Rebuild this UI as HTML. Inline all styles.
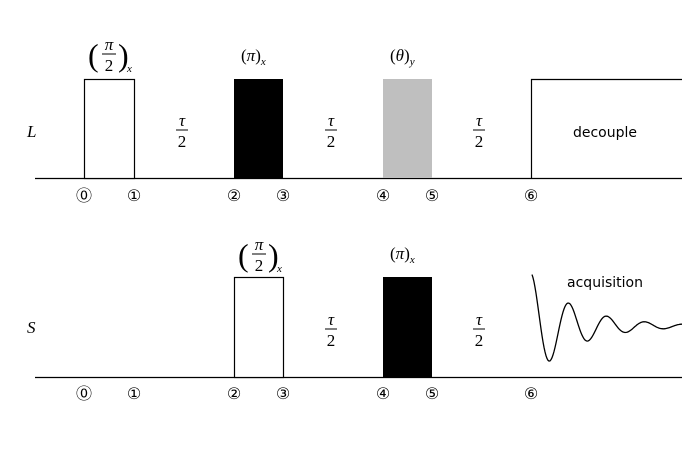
<!DOCTYPE html>
<html><head><meta charset="utf-8"><style>
html,body{margin:0;padding:0;background:#fff}
svg text{font-family:"Liberation Serif","DejaVu Serif",serif}
.s{font-family:"DejaVu Sans","Liberation Sans",sans-serif}
</style></head><body>
<svg width="698" height="458" viewBox="0 0 698 458" xmlns="http://www.w3.org/2000/svg">
<defs>
<g id="tau" font-size="17" text-anchor="middle">
<text x="0" y="-4" font-style="italic">τ</text><line x1="-6" y1="0" x2="6" y2="0" stroke="#000" stroke-width="1"/><text x="0" y="17">2</text>
</g>
</defs>
<g stroke="#000" stroke-width="1.2" fill="none">
<line x1="35" y1="178.5" x2="682" y2="178.5"/>
<line x1="35" y1="377.5" x2="682" y2="377.5"/>
<rect x="84.5" y="79.5" width="50" height="99" fill="#fff"/>
<rect x="234" y="79" width="49" height="99" fill="#000" stroke="none"/>
<rect x="383" y="79" width="49" height="99" fill="#bfbfbf" stroke="none"/>
<polyline points="531.5,178 531.5,79.5 682,79.5"/>
<rect x="234.5" y="277.5" width="49" height="100" fill="#fff"/>
<rect x="383" y="277" width="49" height="100" fill="#000" stroke="none"/>
<path id="w" stroke-width="1.3"/>
</g>
<g font-style="italic" font-size="17">
<text x="27" y="137">L</text>
<text x="27" y="333">S</text>
</g>
<use href="#tau" x="182" y="130"/>
<use href="#tau" x="331" y="130"/>
<use href="#tau" x="479" y="130"/>
<use href="#tau" x="331" y="329"/>
<use href="#tau" x="479" y="329"/>
<g font-size="17">
<text x="88" y="66" font-size="32">(</text>
<text x="109" y="50" text-anchor="middle" font-style="italic">π</text>
<line x1="102" y1="54" x2="116" y2="54" stroke="#000"/>
<text x="109" y="71" text-anchor="middle">2</text>
<text x="118" y="66" font-size="32">)</text>
<text x="127" y="72" font-size="11" font-style="italic">x</text>
<text x="241" y="61">(<tspan font-style="italic">π</tspan>)<tspan font-size="11" font-style="italic" dy="4">x</tspan></text>
<text x="390" y="61">(<tspan font-style="italic">θ</tspan>)<tspan font-size="11" font-style="italic" dy="4">y</tspan></text>
<text x="238" y="266" font-size="32">(</text>
<text x="259" y="250" text-anchor="middle" font-style="italic">π</text>
<line x1="252" y1="254" x2="266" y2="254" stroke="#000"/>
<text x="259" y="271" text-anchor="middle">2</text>
<text x="268" y="266" font-size="32">)</text>
<text x="277" y="272" font-size="11" font-style="italic">x</text>
<text x="390" y="259">(<tspan font-style="italic">π</tspan>)<tspan font-size="11" font-style="italic" dy="4">x</tspan></text>
</g>
<g font-size="14" text-anchor="middle">
<text class="s" x="605" y="137">decouple</text>
<text class="s" x="605" y="287">acquisition</text>
</g>
<g font-size="16" text-anchor="middle">
<text class="s" x="84" y="201">⓪</text><text class="s" x="134" y="201">①</text><text class="s" x="234" y="201">②</text><text class="s" x="283" y="201">③</text><text class="s" x="383" y="201">④</text><text class="s" x="432" y="201">⑤</text><text class="s" x="531" y="201">⑥</text>
<text class="s" x="84" y="399">⓪</text><text class="s" x="134" y="399">①</text><text class="s" x="234" y="399">②</text><text class="s" x="283" y="399">③</text><text class="s" x="383" y="399">④</text><text class="s" x="432" y="399">⑤</text><text class="s" x="531" y="399">⑥</text>
</g>
<script>
var d="";for(var x=532;x<=682;x+=1){var t=x-532;var y=326-52*Math.exp(-t/45)*Math.cos(2*Math.PI*(t)/38+0.15);d+=(x==532?"M":"L")+x+","+y.toFixed(1);}
document.getElementById("w").setAttribute("d",d);
</script>
</svg>
</body></html>
